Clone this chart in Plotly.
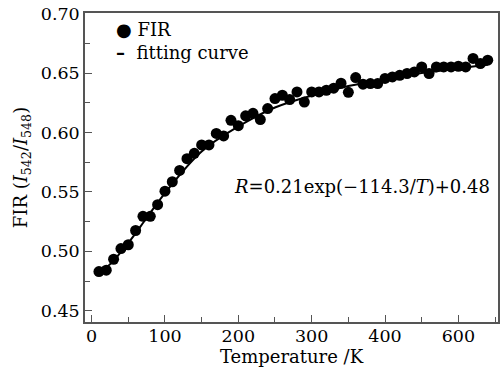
import plotly.graph_objects as go

# Data (x in drawn axis units)
temperature = [10, 20, 30, 40, 50, 60, 70, 80, 90, 100,
               110, 120, 130, 140, 150, 160, 170, 180, 190, 200,
               210, 220, 230, 240, 250, 260, 270, 280, 290, 300,
               310, 320, 330, 340, 350, 360, 370, 380, 390, 400,
               410, 420, 430, 440, 450, 460, 470, 480, 490, 500,
               510, 520, 530, 540]
fir = [0.4829, 0.4841, 0.4933, 0.5023, 0.5055, 0.5175, 0.5294, 0.5294, 0.5392, 0.5506,
       0.5585, 0.5680, 0.5779, 0.5824, 0.5895, 0.5895, 0.5992, 0.5971, 0.6102, 0.6057,
       0.6140, 0.6161, 0.6108, 0.6201, 0.6285, 0.6313, 0.6277, 0.6341, 0.6256, 0.6341,
       0.6341, 0.6355, 0.6372, 0.6414, 0.6338, 0.6462, 0.6406, 0.6411, 0.6411, 0.6454,
       0.6467, 0.6481, 0.6496, 0.6509, 0.6551, 0.6496, 0.6551, 0.6551, 0.6551, 0.6557,
       0.6551, 0.6623, 0.6580, 0.6608]

fit_x = [10, 25, 50, 75, 100, 150, 200, 250, 300, 350, 400, 450, 500, 540]
fit_y = [0.482, 0.489, 0.507, 0.528, 0.549, 0.584, 0.605, 0.621, 0.631, 0.639, 0.645, 0.650, 0.654, 0.657]

x_tickvals = [0, 100, 200, 300, 400, 500]
x_ticktext = ["0", "100", "200", "300", "400", "600"]
y_tickvals = [0.45, 0.50, 0.55, 0.60, 0.65, 0.70]
y_ticktext = ["0.45", "0.50", "0.55", "0.60", "0.65", "0.70"]

FONT = "DejaVu Serif"

fig = go.Figure()
fig.add_trace(go.Scatter(x=fit_x, y=fit_y, mode="lines", line=dict(color="black", width=2, shape="spline"),
                         name="fitting curve", showlegend=False))
fig.add_trace(go.Scatter(x=temperature, y=fir, mode="markers",
                         marker=dict(color="black", size=11, line=dict(width=0)),
                         name="FIR", showlegend=False))

axis_common = dict(showline=True, linecolor="#555555", linewidth=1.5, mirror=True,
                   ticks="inside", tickcolor="#555555", ticklen=7, tickwidth=1.2,
                   showgrid=False, zeroline=False, automargin=False,
                   tickfont=dict(family=FONT, size=17.5, color="black"))

fig.update_xaxes(range=[-9, 554], tickvals=x_tickvals, ticktext=x_ticktext,
                 minor=dict(ticks="inside", dtick=50, tick0=0, ticklen=5, tickcolor="#555555", tickwidth=1.2),
                 ticklabelstandoff=-3,
                 title=dict(text="Temperature /K", font=dict(family=FONT, size=18, color="black"), standoff=4),
                 **axis_common)
fig.update_yaxes(range=[0.4405, 0.7005], tickvals=y_tickvals, ticktext=y_ticktext,
                 minor=dict(ticks="inside", dtick=0.025, tick0=0.45, ticklen=5, tickcolor="#555555", tickwidth=1.2),
                 title=dict(text="FIR (<i>I</i><sub>542</sub>/<i>I</i><sub>548</sub>)",
                            font=dict(family=FONT, size=18, color="black"), standoff=8),
                 **axis_common)

fig.add_annotation(xref="paper", yref="paper", x=0.0695, y=0.945, xanchor="left", yanchor="middle",
                   text="● FIR", showarrow=False, font=dict(family=FONT, size=18, color="black"))
fig.add_annotation(xref="paper", yref="paper", x=0.0695, y=0.872, xanchor="left", yanchor="middle",
                   text="<b>–</b>  fitting curve", showarrow=False, font=dict(family=FONT, size=18, color="black"))
fig.add_annotation(xref="paper", yref="paper", x=0.67, y=0.44, xanchor="center", yanchor="middle",
                   text="<i>R</i>=0.21exp(−114.3/<i>T</i>)+0.48", showarrow=False,
                   font=dict(family=FONT, size=18, color="black"))

fig.update_layout(width=501, height=376, margin=dict(l=85, r=3, t=13, b=54),
                  paper_bgcolor="white", plot_bgcolor="white", showlegend=False)

fig.write_html("out.html", config={"displayModeBar": False},
               post_script="document.body.style.margin='0';")
